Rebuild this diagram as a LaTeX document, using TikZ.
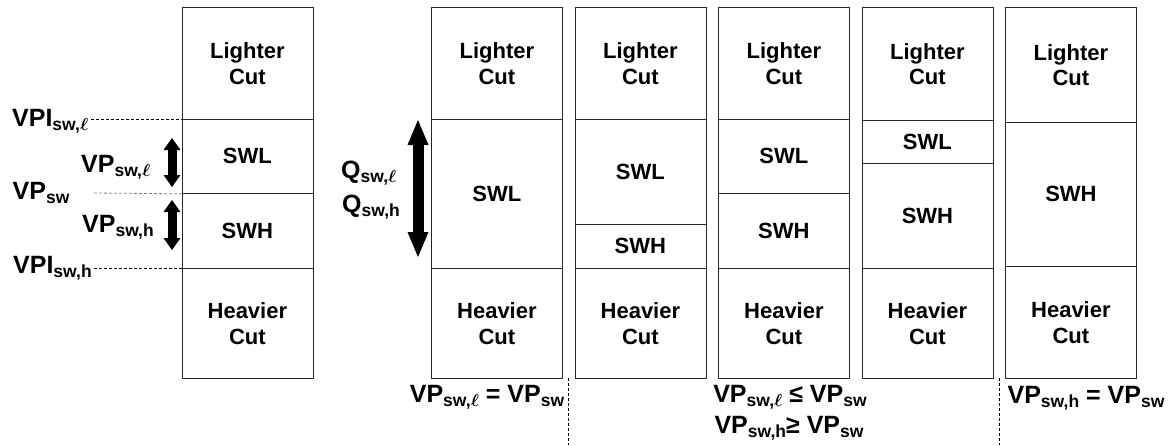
\documentclass[tikz,border=0pt]{standalone}
\usepackage{amsmath}
\usepackage{fontspec}
\setmainfont{Liberation Sans}
\usetikzlibrary{arrows.meta,positioning,calc}
\newcommand{\lowsub}[1]{\raisebox{-4.5pt}{\fontsize{17.5}{17.5}\selectfont #1}}
\newcommand{\ellb}{$\boldsymbol{\ell}$}
\tikzset{
  cell/.style={draw=black!85,line width=0.8pt,minimum width=131pt,inner sep=0pt,anchor=north west,align=center,font=\bfseries\fontsize{22}{25.5}\selectfont},
  lbl/.style={font=\bfseries\fontsize{25}{29}\selectfont,inner sep=0pt},
  guide/.style={line width=0.8pt,dash pattern=on 3pt off 2pt},
  smallarr/.style={line width=9pt,{Triangle[length=12pt,width=17pt,line width=0pt]}-{Triangle[length=12pt,width=17pt,line width=0pt]}},
  bigarr/.style={line width=11pt,{Triangle[length=25pt,width=21pt,line width=0pt]}-{Triangle[length=25pt,width=21pt,line width=0pt]}}
}

\begin{document}
\begin{tikzpicture}[x=1pt,y=-1pt]
\path[use as bounding box] (0,0) rectangle (1169,445);
% reference column
\node[cell,minimum height=112pt] (l0) at (181.5,7) {Lighter\\Cut};
\node[cell,minimum height=74pt] (l1) at (181.5,119) {SWL};
\node[cell,minimum height=75pt] (l2) at (181.5,193) {SWH};
\node[cell,minimum height=110pt] (l3) at (181.5,268) {Heavier\\Cut};
% five cases, lighter and heavier cuts
\foreach \c/\x/\ya/\yb in {a/431/119/268,b/574.5/119/268,c/718/119/268,d/861.5/120/268,e/1005/122/266}{
  \node[cell,minimum height={(\ya-7)*1pt}] (\c0) at (\x,7) {Lighter\\Cut};
  \node[cell,minimum height={(378-\yb)*1pt}] (\c3) at (\x,\yb) {Heavier\\Cut};
}
\node[cell,minimum height=149pt] (a1) at (431,119) {SWL};
\node[cell,minimum height=105pt] (b1) at (574.5,119) {SWL};
\node[cell,minimum height=44pt] (b2) at (574.5,224) {SWH};
\node[cell,minimum height=74pt] (c1) at (718,119) {SWL};
\node[cell,minimum height=75pt] (c2) at (718,193) {SWH};
\node[cell,minimum height=43pt] (d1) at (861.5,120) {SWL};
\node[cell,minimum height=105pt] (d2) at (861.5,163) {SWH};
\node[cell,minimum height=144pt] (e2) at (1005,122) {SWH};
% left labels
\node[lbl,anchor=base west] (vpil) at (12,126) {VPI\lowsub{sw,\ellb}};
\node[lbl,anchor=base west] (vpl) at (81,172) {VP\lowsub{sw,\ellb}};
\node[lbl,anchor=base west] (vpsw) at (12.5,199) {VP\lowsub{sw}};
\node[lbl,anchor=base west] (vph) at (82,232) {VP\lowsub{sw,h}};
\node[lbl,anchor=base west] (vpih) at (13,273) {VPI\lowsub{sw,h}};
\coordinate (swmark) at (94,193);
\draw[guide] ([xshift=3pt]vpil.east |- l0.south west) -- (l0.south west);
\draw[guide,gray] (swmark) -- (l1.south west);
\draw[guide] ([xshift=2pt]vpih.east |- l3.north west) -- (l3.north west);
\coordinate (al1) at (172,138); \coordinate (al2) at (172,187);
\coordinate (ah1) at (172,200); \coordinate (ah2) at (172,250);
\draw[smallarr] (al1) -- (al2);
\draw[smallarr] (ah1) -- (ah2);
% quantity arrow
\node[lbl,anchor=base west] (ql) at (341,178) {Q\lowsub{sw,\ellb}};
\node[lbl,anchor=base west] (qh) at (342,212) {Q\lowsub{sw,h}};
\coordinate (aq1) at (418,120); \coordinate (aq2) at (418,257);
\draw[bigarr] (aq1) -- (aq2);
% bottom conditions
\node[lbl,anchor=base] (eql) at (487,402) {VP\lowsub{sw,\ellb} = VP\lowsub{sw}};
\node[lbl,anchor=base] (leq) at (790,402) {VP\lowsub{sw,\ellb} ≤ VP\lowsub{sw}};
\node[lbl,anchor=base] (geq) at (789,433) {VP\lowsub{sw,h}≥ VP\lowsub{sw}};
\node[lbl,anchor=base] (eqh) at (1086,403) {VP\lowsub{sw,h} = VP\lowsub{sw}};
\coordinate (s1t) at (568,378); \coordinate (s1b) at (568,445);
\coordinate (s2t) at (999,378); \coordinate (s2b) at (999,445);
\draw[guide] (s1t) -- (s1b);
\draw[guide] (s2t) -- (s2b);
\end{tikzpicture}
\end{document}
